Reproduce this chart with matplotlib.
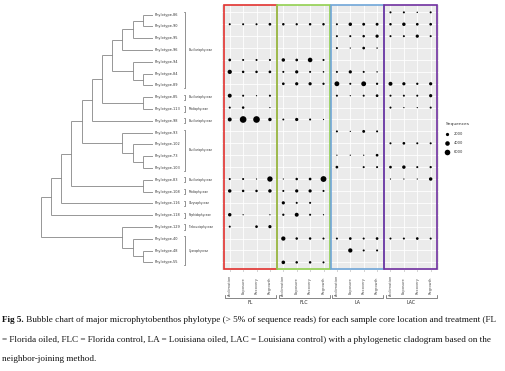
import matplotlib
matplotlib.use('Agg')
import matplotlib.pyplot as plt
from matplotlib.patches import Rectangle
from matplotlib.transforms import blended_transform_factory
import numpy as np

# ---------------- data ----------------
phylotypes = ['Phylotype-86', 'Phylotype-90', 'Phylotype-95', 'Phylotype-96', 'Phylotype-94',
              'Phylotype-84', 'Phylotype-89', 'Phylotype-85', 'Phylotype-113', 'Phylotype-98',
              'Phylotype-93', 'Phylotype-102', 'Phylotype-73', 'Phylotype-103', 'Phylotype-83',
              'Phylotype-108', 'Phylotype-116', 'Phylotype-118', 'Phylotype-129', 'Phylotype-40',
              'Phylotype-48', 'Phylotype-55']
phases = ['Acclimation', 'Exposure', 'Recovery', 'Regrowth']
locations = ['FL', 'FLC', 'LA', 'LAC']
box_colors = ['#e2322f', '#92d050', '#70a6d8', '#7030a0']

# sequences per phylotype (rows) x phase (Acclimation, Exposure, Recovery, Regrowth)
FL = [[0, 0, 0, 0], [800, 800, 800, 1400], [0, 0, 0, 0], [0, 0, 0, 0],
      [1400, 800, 800, 800], [3500, 1200, 1200, 1400], [0, 0, 0, 0], [3000, 800, 300, 800],
      [800, 1200, 0, 300], [3000, 8500, 8500, 2300], [0, 0, 0, 0], [0, 0, 0, 0],
      [0, 0, 0, 0], [0, 0, 0, 0], [800, 800, 300, 5500], [2300, 1200, 1200, 2300],
      [0, 0, 0, 0], [2300, 300, 0, 300], [800, 0, 1400, 2000], [0, 0, 0, 0],
      [0, 0, 0, 0], [0, 0, 0, 0]]
FLC = [[0, 0, 0, 0], [1200, 1000, 1200, 1200], [0, 0, 0, 0], [0, 0, 0, 0],
       [2300, 1400, 4000, 800], [800, 2000, 800, 500], [1400, 2000, 2000, 1000], [0, 0, 0, 0],
       [0, 0, 0, 0], [700, 2000, 800, 300], [0, 0, 0, 0], [0, 0, 0, 0],
       [0, 0, 0, 0], [0, 0, 0, 0], [300, 1200, 1400, 6500], [800, 2000, 2000, 800],
       [2000, 800, 800, 0], [1000, 3000, 800, 300], [0, 0, 0, 0], [3500, 1200, 1200, 800],
       [0, 0, 0, 0], [2500, 1200, 1200, 800]]
LA = [[0, 0, 0, 0], [800, 2300, 1600, 1600], [800, 800, 1200, 2000], [800, 300, 1400, 400],
      [0, 0, 0, 0], [800, 2000, 800, 400], [4500, 800, 4500, 1000], [800, 300, 800, 1400],
      [0, 0, 0, 0], [0, 0, 0, 0], [800, 300, 1600, 800], [0, 0, 0, 0],
      [300, 300, 300, 1400], [1400, 0, 800, 800], [0, 0, 0, 0], [0, 0, 0, 0],
      [0, 0, 0, 0], [0, 0, 0, 0], [0, 0, 0, 0], [800, 1400, 800, 1400],
      [0, 3500, 800, 800], [0, 0, 0, 0]]
LAC = [[800, 800, 400, 800], [1200, 2300, 1400, 1400], [800, 800, 2000, 800], [0, 0, 0, 0],
       [0, 0, 0, 0], [0, 0, 0, 0], [3000, 2000, 1000, 2000], [800, 800, 800, 2000],
       [800, 300, 300, 800], [0, 0, 0, 0], [0, 0, 0, 0], [800, 1400, 800, 800],
       [0, 0, 0, 0], [1400, 2300, 800, 1000], [300, 300, 300, 2300], [0, 0, 0, 0],
       [0, 0, 0, 0], [0, 0, 0, 0], [0, 0, 0, 0], [800, 800, 1400, 800],
       [0, 0, 0, 0], [0, 0, 0, 0]]
legend_values = [2000, 4000, 6000]

# cladogram merges: (child a, child b, level); leaves 0..21, new nodes numbered from 22
merges = [(0, 1, 1), (5, 6, 1), (7, 8, 1), (12, 13, 1), (14, 15, 1), (20, 21, 1),
          (22, 2, 2), (4, 23, 2), (11, 25, 2), (19, 27, 2),
          (28, 3, 3), (10, 30, 3), (18, 31, 3),
          (32, 29, 4), (35, 24, 5), (36, 9, 6), (37, 33, 7), (38, 26, 8),
          (39, 16, 9), (40, 17, 10), (41, 34, 11)]

class_groups = [(0, 6, 'Bacillariophyceae'), (7, 7, 'Bacillariophyceae'), (8, 8, 'Mediophyceae'),
                (9, 9, 'Bacillariophyceae'), (10, 13, 'Bacillariophyceae'), (14, 14, 'Bacillariophyceae'),
                (15, 15, 'Mediophyceae'), (16, 16, 'Chrysophyceae'), (17, 17, 'Raphidophyceae'),
                (18, 18, 'Trebouxiophyceae'), (19, 21, 'Cyanophyceae')]

caption_bold = 'Fig 5.'
caption_lines = [' Bubble chart of major microphytobenthos phylotype (> 5% of sequence reads) for each sample core location and treatment (FL',
                 '= Florida oiled, FLC = Florida control, LA = Louisiana oiled, LAC = Louisiana control) with a phylogenetic cladogram based on the',
                 'neighbor-joining method.']

# ---------------- figure ----------------
W, H = 505, 371
fig = plt.figure(figsize=(W / 100, H / 100), dpi=100)
fig.patch.set_facecolor('white')


def px_axes(x0, x1, y0, y1):
    return fig.add_axes([x0 / W, 1 - y1 / H, (x1 - x0) / W, (y1 - y0) / H])


ax_o = fig.add_axes([0, 0, 1, 1])
ax_o.set_xlim(0, W)
ax_o.set_ylim(H, 0)
ax_o.axis('off')


def size_of(v):
    return 5.4 * np.asarray(v, dtype=float) / 2000.0


# ---- bubble panel ----
ax_b = px_axes(221.7, 438.7, 5.2, 269.5)
ax_b.set_xlim(-0.6, 15.6)
ax_b.set_ylim(21.6, -0.6)
ax_b.set_facecolor('#EBEBEB')
for s in ax_b.spines.values():
    s.set_visible(False)
ax_b.set_xticks(range(16))
ax_b.set_yticks(range(len(phylotypes)))
ax_b.grid(True, color='white', lw=0.6)
ax_b.set_axisbelow(True)
ax_b.tick_params(axis='y', left=False, labelleft=False)
ax_b.tick_params(axis='x', length=1.0, width=0.4, color='#666666', pad=10.5,
                 labelsize=2.6, labelcolor='#4d4d4d')
ax_b.set_xticklabels(phases * 4, rotation=90, va='center')

for gi, grp in enumerate([FL, FLC, LA, LAC]):
    arr = np.array(grp)
    rr, cc = np.nonzero(arr)
    ax_b.scatter(gi * 4 + cc, rr, s=size_of(arr[rr, cc]), c='black', linewidths=0, zorder=3)

for gi, col in enumerate(box_colors):
    left = max(gi * 4 - 0.45, -0.6)
    right = min(gi * 4 + 3.5, 15.6)
    ax_b.add_patch(Rectangle((left, -0.6), right - left, 22.2, fill=False, ec=col,
                             lw=1.2, clip_on=False, zorder=5))

# group brackets under the panel
tr = blended_transform_factory(ax_b.transData, ax_o.transData)
for gi, name in enumerate(locations):
    x0, x1 = gi * 4 - 0.35, gi * 4 + 3.45
    ax_o.plot([x0, x0, x1, x1], [294.5, 298.3, 298.3, 294.5], transform=tr,
              color='#555555', lw=0.5, solid_joinstyle='round')
    ax_o.text(gi * 4 + 1.5, 303.0, name, transform=tr, ha='center', va='center',
              fontsize=3.3, color='#222222')

# ---- cladogram ----
ax_d = px_axes(40.7, 153.0, 8.8, 268.2)
ax_d.set_xlim(11, 0)
ax_d.set_ylim(21.5, -0.5)
ax_d.axis('off')
pos = {i: (0.0, float(i)) for i in range(len(phylotypes))}
lc = '#7a7a7a'
for k, (a, b, lev) in enumerate(merges):
    xa, ya = pos[a]
    xb, yb = pos[b]
    ax_d.plot([xa, lev], [ya, ya], color=lc, lw=0.55, solid_capstyle='butt')
    ax_d.plot([xb, lev], [yb, yb], color=lc, lw=0.55, solid_capstyle='butt')
    ax_d.plot([lev, lev], [ya, yb], color=lc, lw=0.55, solid_capstyle='butt')
    pos[len(phylotypes) + k] = (lev, (ya + yb) / 2)

for i, name in enumerate(phylotypes):
    ax_d.text(-0.2, i, name, ha='left', va='center', fontsize=2.5, color='#333333', clip_on=False)

bx, tx = -3.18, -3.48
for r0, r1, name in class_groups:
    y0, y1 = r0 - 0.22, r1 + 0.22
    ax_d.plot([bx + 0.15, bx, bx, bx + 0.15], [y0, y0, y1, y1], color='#555555', lw=0.45, clip_on=False)
    ax_d.text(tx, (r0 + r1) / 2, name, ha='left', va='center', fontsize=2.0, color='#333333', clip_on=False)

# ---- legend ----
handles = [ax_b.scatter([], [], s=size_of(v), c='black', linewidths=0) for v in legend_values]
leg = fig.legend(handles, [str(v) for v in legend_values], title='Sequences', loc='upper left',
                 bbox_to_anchor=(445.5 / W, 1 - 122.5 / H), frameon=False, fontsize=2.6,
                 title_fontsize=3.2, scatterpoints=1, handlelength=1.0, handletextpad=1.4,
                 labelspacing=1.45, borderpad=0, borderaxespad=0, alignment='left')
for t in leg.get_texts():
    t.set_color('#333333')
leg.get_title().set_color('#333333')

# ---- caption ----
cap_font = dict(family='Liberation Serif', fontsize=6.62, color='#111111')
t0 = ax_o.text(2, 322.5, caption_bold, ha='left', va='baseline', fontweight='bold', **cap_font)
ax_o.annotate(caption_lines[0], xy=(1, 0), xycoords=t0, ha='left', va='bottom', **cap_font)
ax_o.text(2, 342.5, caption_lines[1], ha='left', va='baseline', **cap_font)
ax_o.text(2, 361.0, caption_lines[2], ha='left', va='baseline', **cap_font)

fig.savefig('out.png', dpi=100, facecolor='white')
